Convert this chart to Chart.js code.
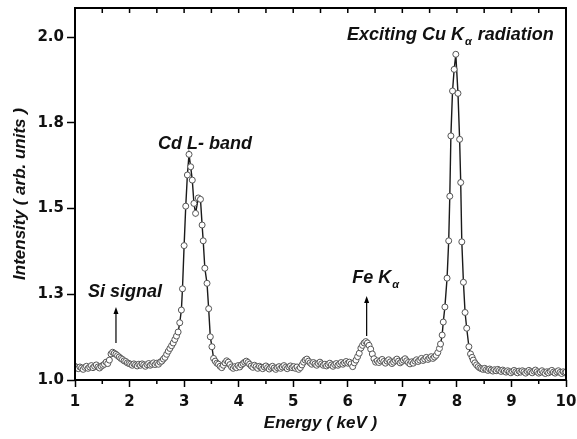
<!DOCTYPE html>
<html>
<head>
<meta charset="utf-8">
<title>EDX spectrum</title>
<script src="https://cdn.jsdelivr.net/npm/chart.js@4/dist/chart.umd.min.js"></script>
<style>
  html, body { margin: 0; padding: 0; background: #fff; }
  canvas { display: block; }
</style>
</head>
<body>
<canvas id="edxChart" width="577" height="439"></canvas>
<script>
// spectrum (keV / arb. units)
const energy = [
  1.00, 1.03, 1.06, 1.09, 1.12, 1.15, 1.18, 1.21, 1.24, 1.27, 1.30, 1.33, 1.36, 1.39, 1.42, 1.45, 1.48, 1.51, 1.54, 1.57, 1.60,
  1.63, 1.66, 1.69, 1.72, 1.75, 1.78, 1.81, 1.84, 1.87, 1.90, 1.93, 1.96, 1.99, 2.02, 2.05, 2.08, 2.11, 2.14, 2.17, 2.20,
  2.23, 2.26, 2.29, 2.32, 2.35, 2.38, 2.41, 2.44, 2.47, 2.50, 2.53, 2.56, 2.59, 2.62, 2.65, 2.68, 2.71, 2.74, 2.77, 2.80,
  2.83, 2.86, 2.89, 2.92, 2.95, 2.97, 3.00, 3.03, 3.06, 3.09, 3.12, 3.15, 3.18, 3.21, 3.26, 3.30, 3.33, 3.35, 3.38, 3.42,
  3.45, 3.48, 3.51, 3.54, 3.57, 3.60,
  3.63, 3.66, 3.69, 3.72, 3.75, 3.78, 3.81, 3.84, 3.87, 3.90, 3.93, 3.96, 3.99, 4.02, 4.05, 4.08, 4.11, 4.14, 4.17, 4.20,
  4.23, 4.26, 4.29, 4.32, 4.35, 4.38, 4.41, 4.44, 4.47, 4.50, 4.53, 4.56, 4.59, 4.62, 4.65, 4.68, 4.71, 4.74, 4.77, 4.80,
  4.83, 4.86, 4.89, 4.92, 4.95, 4.98, 5.01, 5.04, 5.07, 5.10, 5.13, 5.16, 5.19, 5.22, 5.25, 5.28, 5.31, 5.34, 5.37, 5.40,
  5.43, 5.46, 5.49, 5.52, 5.55, 5.58, 5.61, 5.64, 5.67, 5.70, 5.73, 5.76, 5.79, 5.82, 5.85, 5.88, 5.91, 5.94, 5.97, 6.00,
  6.03, 6.06, 6.09,
  6.12, 6.15, 6.18, 6.21, 6.24, 6.27, 6.30, 6.33, 6.36, 6.39, 6.42, 6.45, 6.48, 6.51, 6.54,
  6.57, 6.60, 6.63, 6.66, 6.69, 6.72, 6.75, 6.78, 6.81, 6.84, 6.87, 6.90, 6.93, 6.96, 6.99, 7.02, 7.05, 7.08, 7.11, 7.14,
  7.17, 7.20, 7.23, 7.26, 7.29, 7.32, 7.35, 7.38, 7.41, 7.44, 7.47, 7.50, 7.53, 7.56, 7.59,
  7.62, 7.65, 7.68, 7.70, 7.73, 7.75, 7.78, 7.82, 7.85, 7.87, 7.89, 7.92, 7.95, 7.98, 8.02, 8.05, 8.07, 8.09, 8.12, 8.15,
  8.18, 8.22, 8.25, 8.28, 8.30, 8.33, 8.36, 8.39, 8.42,
  8.45, 8.48, 8.51, 8.54, 8.57, 8.60, 8.63, 8.66, 8.69, 8.72, 8.75, 8.78, 8.81, 8.84, 8.87, 8.90, 8.93, 8.96, 8.99, 9.02,
  9.05, 9.08, 9.11, 9.14, 9.17, 9.20, 9.23, 9.26, 9.29, 9.32, 9.35, 9.38, 9.41, 9.44, 9.47, 9.50, 9.53, 9.56, 9.59, 9.62,
  9.65, 9.68, 9.71, 9.74, 9.77, 9.80, 9.83, 9.86, 9.89, 9.92, 9.95, 9.98, 10.00
]
const intensity = [
  1.040, 1.036, 1.033, 1.038, 1.035, 1.031, 1.037, 1.040, 1.034, 1.038, 1.042, 1.036, 1.040, 1.044, 1.038, 1.035, 1.040, 1.043, 1.046, 1.052, 1.048,
  1.058, 1.076, 1.081, 1.078, 1.075, 1.071, 1.067, 1.063, 1.060, 1.056, 1.054, 1.050, 1.048, 1.046, 1.043, 1.047, 1.044, 1.041, 1.046, 1.043,
  1.047, 1.044, 1.040, 1.045, 1.048, 1.043, 1.046, 1.050, 1.045, 1.049, 1.046, 1.052, 1.055, 1.061, 1.066, 1.075, 1.084, 1.092, 1.100, 1.108,
  1.118, 1.128, 1.140, 1.167, 1.204, 1.266, 1.392, 1.507, 1.598, 1.658, 1.622, 1.583, 1.515, 1.486, 1.531, 1.527, 1.452, 1.406, 1.326, 1.282,
  1.208, 1.126, 1.097, 1.063, 1.055, 1.049,
  1.046, 1.040, 1.036, 1.043, 1.050, 1.056, 1.052, 1.045, 1.038, 1.034, 1.039, 1.036, 1.042, 1.038, 1.044, 1.048, 1.052, 1.055, 1.051, 1.046,
  1.041, 1.037, 1.043, 1.039, 1.034, 1.040, 1.037, 1.033, 1.038, 1.041, 1.036, 1.032, 1.037, 1.040, 1.035, 1.031, 1.036, 1.039, 1.034, 1.038,
  1.042, 1.037, 1.033, 1.038, 1.041, 1.036, 1.039, 1.034, 1.038, 1.031, 1.036, 1.044, 1.052, 1.058, 1.061, 1.055, 1.050, 1.046, 1.051, 1.047,
  1.043, 1.048, 1.052, 1.047, 1.043, 1.046, 1.041, 1.045, 1.049, 1.044, 1.040, 1.045, 1.048, 1.043, 1.047, 1.051, 1.046, 1.050, 1.054, 1.049,
  1.052, 1.047, 1.039,
  1.050, 1.058, 1.068, 1.078, 1.093, 1.101, 1.108, 1.112, 1.108, 1.101, 1.090, 1.076, 1.062, 1.052, 1.056,
  1.051, 1.056, 1.060, 1.054, 1.049, 1.055, 1.059, 1.053, 1.048, 1.052, 1.057, 1.061, 1.055, 1.050, 1.054, 1.058, 1.062, 1.056, 1.051, 1.047,
  1.053, 1.049, 1.055, 1.059, 1.054, 1.058, 1.063, 1.057, 1.061, 1.066, 1.060, 1.064, 1.068, 1.063, 1.067,
  1.072, 1.080, 1.092, 1.105, 1.131, 1.169, 1.213, 1.297, 1.406, 1.536, 1.712, 1.843, 1.906, 1.950, 1.836, 1.702, 1.576, 1.403, 1.285, 1.197,
  1.151, 1.097, 1.076, 1.066, 1.058, 1.050, 1.044, 1.039, 1.035,
  1.033, 1.031, 1.034, 1.030, 1.028, 1.032, 1.029, 1.026, 1.030, 1.027, 1.031, 1.028, 1.025, 1.029, 1.026, 1.023, 1.027, 1.024, 1.021, 1.025,
  1.028, 1.024, 1.021, 1.026, 1.023, 1.027, 1.024, 1.020, 1.025, 1.028, 1.024, 1.021, 1.026, 1.029, 1.024, 1.020, 1.023, 1.027, 1.022, 1.019,
  1.024, 1.021, 1.025, 1.028, 1.023, 1.020, 1.024, 1.027, 1.022, 1.019, 1.024, 1.021, 1.023
]

const xTicks = [1, 2, 3, 4, 5, 6, 7, 8, 9, 10]
const xMinorTicks = [1.5, 2.5, 3.5, 4.5, 5.5, 6.5, 7.5, 8.5, 9.5]
const yTicks = [1.0, 1.25, 1.5, 1.75, 2.0]

// peak labels, in data units (x = left edge, y = baseline)
const peakLabels = [
  { text: 'Si signal', x: 1.24, y: 1.242 },
  { text: 'Cd L- band', x: 2.52, y: 1.673 },
  { text: 'Fe K', sub: 'α', x: 6.08, y: 1.283 },
  { text: 'Exciting Cu K', sub: 'α', rest: ' radiation', x: 5.985, y: 1.991 }
]
const arrows = [
  { x: 1.751, from: 1.108, to: 1.213 },
  { x: 6.346, from: 1.128, to: 1.245 }
]

const labelFont = 'italic bold 18px "Liberation Sans", Arial, sans-serif'
const subFont = 'italic bold 11px "Liberation Sans", Arial, sans-serif'
const tickFont = { family: '"DejaVu Sans", sans-serif', size: 15, weight: 'bold' }
const titleFont = { family: '"Liberation Sans", Arial, sans-serif', size: 17, weight: 'bold', style: 'italic' }

const frame = {
  id: 'frame',
  afterDraw(chart) {
    const { ctx, chartArea: a, scales: { x, y } } = chart
    ctx.save()
    ctx.strokeStyle = '#000'
    ctx.lineWidth = 2
    ctx.strokeRect(a.left, a.top, a.right - a.left, a.bottom - a.top)

    ctx.lineWidth = 1.5
    ctx.beginPath()
    xTicks.concat(xMinorTicks).forEach(v => {
      const px = x.getPixelForValue(v)
      ctx.moveTo(px, a.top)
      ctx.lineTo(px, a.top + 5)
    })
    xMinorTicks.forEach(v => {
      const px = x.getPixelForValue(v)
      ctx.moveTo(px, a.bottom)
      ctx.lineTo(px, a.bottom + 4)
    })
    ctx.stroke()

    // arrows
    ctx.lineWidth = 1.2
    ctx.fillStyle = '#000'
    arrows.forEach(ar => {
      const px = x.getPixelForValue(ar.x)
      const y0 = y.getPixelForValue(ar.from)
      const y1 = y.getPixelForValue(ar.to)
      ctx.beginPath()
      ctx.moveTo(px, y0)
      ctx.lineTo(px, y1 + 5)
      ctx.stroke()
      ctx.beginPath()
      ctx.moveTo(px, y1)
      ctx.lineTo(px - 2.5, y1 + 7)
      ctx.lineTo(px + 2.5, y1 + 7)
      ctx.closePath()
      ctx.fill()
    })

    // text labels
    ctx.fillStyle = '#111'
    ctx.textBaseline = 'alphabetic'
    ctx.textAlign = 'left'
    peakLabels.forEach(l => {
      let px = x.getPixelForValue(l.x)
      const py = y.getPixelForValue(l.y)
      ctx.font = labelFont
      ctx.fillText(l.text, px, py)
      px += ctx.measureText(l.text).width
      if (l.sub) {
        ctx.font = subFont
        ctx.fillText(l.sub, px + 1, py + 5)
        px += ctx.measureText(l.sub).width + 2
      }
      if (l.rest) {
        ctx.font = labelFont
        ctx.fillText(l.rest, px, py)
      }
    })
    ctx.restore()
  }
}

const ctx = document.getElementById('edxChart')
const edxChart = new Chart(ctx, {
  type: 'line',
  data: {
    datasets: [{
      data: energy.map((e, i) => ({ x: e, y: intensity[i] })),
      borderColor: '#1a1a1a',
      borderWidth: 1.4,
      tension: 0,
      pointRadius: 3,
      pointBorderWidth: 1,
      pointBorderColor: '#555',
      pointBackgroundColor: '#fff'
    }]
  },
  options: {
    responsive: false,
    animation: false,
    layout: { padding: { left: 0, right: 11, top: 8, bottom: 0 } },
    plugins: { legend: { display: false }, tooltip: { enabled: false } },
    scales: {
      x: {
        type: 'linear',
        min: 1,
        max: 10,
        afterBuildTicks: s => { s.ticks = xTicks.map(v => ({ value: v })) },
        afterFit: s => { s.height = 59; s.paddingLeft = 0; s.paddingRight = 0 },
        border: { display: false },
        grid: { drawOnChartArea: false, tickLength: 7, tickColor: '#000', tickWidth: 1.5 },
        ticks: { font: tickFont, color: '#111', padding: 6, maxRotation: 0, autoSkip: false },
        title: { display: true, text: 'Energy ( keV )', font: titleFont, color: '#111', padding: { top: 0, bottom: 5 } }
      },
      y: {
        type: 'linear',
        min: 1.0,
        max: 2.085,
        afterBuildTicks: s => { s.ticks = yTicks.map(v => ({ value: v })) },
        afterFit: s => { s.width = 75; s.paddingTop = 0; s.paddingBottom = 0 },
        border: { display: false },
        grid: { drawOnChartArea: false, tickLength: 8, tickColor: '#000', tickWidth: 1.5 },
        ticks: { font: tickFont, color: '#111', padding: 3, callback: v => v.toFixed(1) },
        title: { display: true, text: 'Intensity ( arb. units )', font: titleFont, color: '#111', padding: { top: 10, bottom: 0 } }
      }
    }
  },
  plugins: [frame]
})
</script>
</body>
</html>
